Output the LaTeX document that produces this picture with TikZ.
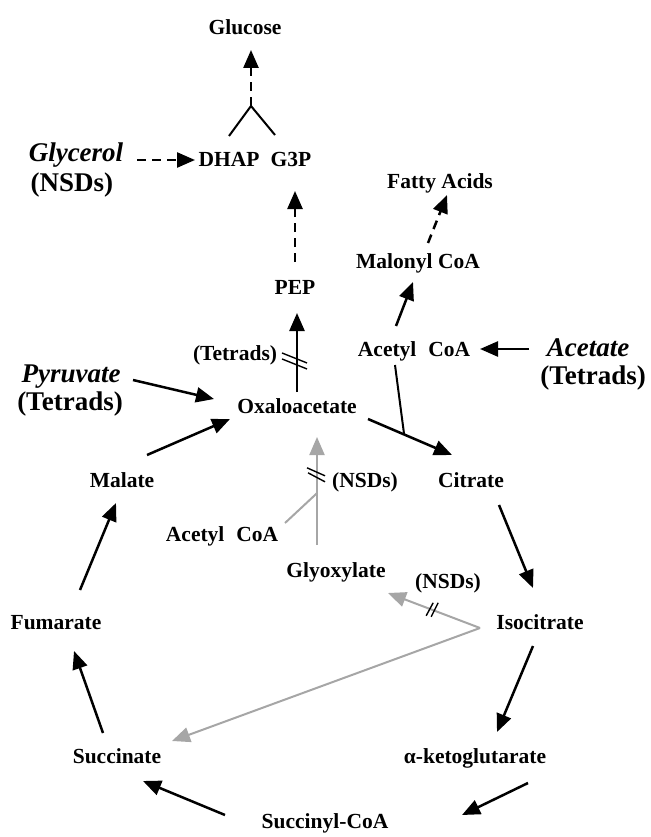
\documentclass[tikz,border=0pt]{standalone}
\usepackage{fontspec}
\setmainfont{Liberation Serif}
\usepackage{tikz}
\usetikzlibrary{arrows.meta}

\begin{document}
\begin{tikzpicture}[x=1pt, y=-1pt,
  lbl/.style={font=\fontsize{21.5}{24}\selectfont\bfseries, inner sep=0pt, anchor=base},
  big/.style={font=\fontsize{27}{30}\selectfont\bfseries, inner sep=0pt, anchor=base},
  bigit/.style={big, font=\fontsize{27}{30}\selectfont\bfseries\itshape},
  flow/.style={draw, line width=2.5pt, -{Triangle[length=18pt,width=15pt]}},
  dflow/.style={flow, dash pattern=on 9pt off 6pt},
  gflow/.style={draw=black!35, line width=2pt, -{Triangle[length=18pt,width=15pt]}},
  branch/.style={draw, line width=2pt},
  hatch/.style={draw, line width=1.4pt},
]
  \useasboundingbox (0,0) rectangle (650,837);

  % Metabolites
  \node[lbl] (glucose)  at (245,35)  {Glucose};
  \node[lbl] (dhap)     at (229,167) {DHAP};
  \node[lbl] (g3p)      at (291,167) {G3P};
  \node[lbl] (fatty)    at (440,189) {Fatty Acids};
  \node[lbl] (malonyl)  at (418,268) {Malonyl CoA};
  \node[lbl] (pep)      at (295,294) {PEP};
  \node[lbl] (acoa)     at (414,356) {Acetyl\hspace{0.55em}CoA};
  \node[lbl] (oaa)      at (297,413) {Oxaloacetate};
  \node[lbl] (malate)   at (122,487) {Malate};
  \node[lbl] (citrate)  at (471,487) {Citrate};
  \node[lbl] (acoagly)  at (222,541) {Acetyl\hspace{0.55em}CoA};
  \node[lbl] (glyox)    at (336,577) {Glyoxylate};
  \node[lbl] (fumarate) at (56,629)  {Fumarate};
  \node[lbl] (iso)      at (540,629) {Isocitrate};
  \node[lbl] (succinate) at (117,763) {Succinate};
  \node[lbl] (akg)      at (475,763) {α-ketoglutarate};
  \node[lbl] (succoa)   at (325,828) {Succinyl-CoA};

  % Substrates and strain notes
  \node[bigit] (glycerol) at (76,162)  {Glycerol};
  \node[big]   (glyns)    at (72,192)  {(NSDs)};
  \node[bigit] (pyruvate) at (71,382)  {Pyruvate};
  \node[big]   (pyrtet)   at (70,410)  {(Tetrads)};
  \node[bigit] (acetate)  at (588,356) {Acetate};
  \node[big]   (acetet)   at (593,384) {(Tetrads)};
  \node[lbl] (tetpep) at (235,360) {(Tetrads)};
  \node[lbl] (nsdoaa) at (365,487) {(NSDs)};
  \node[lbl] (nsdiso) at (448,588) {(NSDs)};

  % Gluconeogenesis (top)
  \coordinate (fork) at ([shift={(22,-61)}]dhap.base);
  \draw[branch] ([shift={(0,-31)}]dhap.base) -- (fork) -- ([shift={(-16,-32)}]g3p.base);
  \draw[dflow] (fork) -- ([shift={(6,15)}]glucose.base);
  \draw[dflow] ([shift={(61,-2)}]glycerol.base) -- ([shift={(-34,-7)}]dhap.base);
  \draw[dflow] ([shift={(0,-32)}]pep.base) -- ([shift={(4,24)}]g3p.base);
  \draw[flow] ([shift={(0,-21)}]oaa.base) -- coordinate[pos=0.38] (cutpep) ([shift={(2,19)}]pep.base);
  \draw[hatch] ([shift={(-15,-9)}]cutpep) -- ([shift={(10,1)}]cutpep);
  \draw[hatch] ([shift={(-15,-3)}]cutpep) -- ([shift={(10,7)}]cutpep);

  % Fatty acid branch
  \draw[flow] ([shift={(-59,-7)}]acetate.base) -- ([shift={(66,-7)}]acoa.base);
  \draw[flow] ([shift={(-18,-30)}]acoa.base) -- ([shift={(-5,14)}]malonyl.base);
  \draw[dflow] ([shift={(10,-25)}]malonyl.base) -- ([shift={(7,6)}]fatty.base);

  % TCA cycle
  \draw[flow] ([shift={(62,-2)}]pyruvate.base) -- ([shift={(-83,-14)}]oaa.base);
  \draw[flow] ([shift={(25,-32)}]malate.base) -- ([shift={(-67,6)}]oaa.base);
  \draw[flow] ([shift={(71,6)}]oaa.base) -- coordinate[pos=0.43] (join) ([shift={(-19,-32)}]citrate.base);
  \draw[branch] ([shift={(-19,9)}]acoa.base) -- (join);
  \draw[flow] ([shift={(28,18)}]citrate.base) -- ([shift={(-7,-41)}]iso.base);
  \draw[flow] ([shift={(-7,17)}]iso.base) -- ([shift={(22,-31)}]akg.base);
  \draw[flow] ([shift={(53,20)}]akg.base) -- ([shift={(137,-13)}]succoa.base);
  \draw[flow] ([shift={(-100,-13)}]succoa.base) -- ([shift={(26,18)}]succinate.base);
  \draw[flow] ([shift={(-14,-30)}]succinate.base) -- ([shift={(18,22)}]fumarate.base);
  \draw[flow] ([shift={(24,-39)}]fumarate.base) -- ([shift={(-6,16)}]malate.base);

  % Glyoxylate shunt (grey)
  \draw[gflow] ([shift={(-19,-32)}]glyox.base) -- coordinate[pos=0.48] (gjoin)
    coordinate[pos=0.65] (cutgly) ([shift={(20,24)}]oaa.base);
  \draw[draw=black!35, line width=2pt] ([shift={(63,-18)}]acoagly.base) -- (gjoin);
  \draw[hatch] ([shift={(-10,-7)}]cutgly) -- ([shift={(8,1)}]cutgly);
  \draw[hatch] ([shift={(-9,-2)}]cutgly) -- ([shift={(8,7)}]cutgly);
  \coordinate (ivert) at ([shift={(-60,-1)}]iso.base);
  \draw[gflow] (ivert) -- coordinate[pos=0.52] (cutiso) ([shift={(52,16)}]glyox.base);
  \draw[gflow] (ivert) -- ([shift={(55,-22)}]succinate.base);
  \draw[hatch] ([shift={(-6,6)}]cutiso) -- ([shift={(1,-7)}]cutiso);
  \draw[hatch] ([shift={(-1,7)}]cutiso) -- ([shift={(6,-7)}]cutiso);
\end{tikzpicture}
\end{document}
